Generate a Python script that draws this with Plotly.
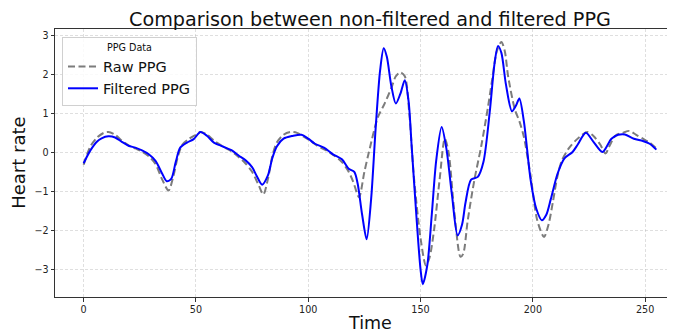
import plotly.graph_objects as go

# Filtered PPG
filt_t = [0, 3, 6, 8, 11, 14, 17, 20, 23, 26, 29, 32, 35, 37, 39, 41, 43, 46, 49, 52,
          55, 58, 62, 66, 69, 72, 75, 77, 79.5, 82, 84, 86, 89, 93, 97, 100, 103, 107,
          111, 115, 118, 120.5, 122, 124, 126, 128, 130, 132, 133.6, 135, 137, 139, 141,
          143, 144.7, 146, 148, 150, 151, 153, 155, 157, 159.4, 161.5, 164, 166.5, 168.5,
          170, 172.5, 175.5, 178, 180.8, 183, 184.5, 186, 188, 190.7, 192.5, 194, 196,
          199, 201.5, 204, 206, 208, 211, 214, 217.7, 220, 223.6, 227, 231, 235, 238,
          241, 245, 249, 252, 255]
filt_v = [-0.28, 0.05, 0.28, 0.36, 0.41, 0.38, 0.27, 0.17, 0.12, 0.05, -0.05, -0.22,
          -0.55, -0.74, -0.68, -0.25, 0.12, 0.25, 0.34, 0.52, 0.42, 0.25, 0.15, 0.05,
          -0.08, -0.2, -0.38, -0.6, -0.83, -0.6, -0.15, 0.15, 0.35, 0.42, 0.45, 0.35,
          0.22, 0.12, -0.05, -0.18, -0.42, -0.5, -0.8, -1.6, -2.23, -1.2, 0.6, 2.1, 2.67,
          2.45, 1.7, 1.25, 1.5, 1.85, 1.3, 0.2, -1.5, -3.0, -3.38, -2.9, -1.6, -0.2, 0.65,
          0.1, -1.1, -2.13, -1.85, -1.3, -0.7, -0.63, -0.25, 1.03, 2.3, 2.73, 2.55, 1.75,
          1.05, 1.2, 1.38, 0.8, -0.7, -1.44, -1.74, -1.6, -1.2, -0.55, -0.16, 0.01, 0.2,
          0.5, 0.27, 0.01, 0.35, 0.45, 0.46, 0.35, 0.29, 0.22, 0.07]

# Raw PPG
raw_t = [0, 3, 6, 9, 11, 14, 17, 20, 23, 26, 29, 32, 35, 37.8, 40, 42, 44, 47, 50, 52,
         55, 58, 62, 66, 69, 72, 75, 78, 80, 82, 84, 86, 89, 92, 95, 98, 101, 104, 108,
         112, 115, 118, 120, 122.6, 125, 127, 131, 134, 137, 139, 141, 143, 145, 147,
         150, 152.4, 154, 156, 158.5, 160.8, 162.5, 165, 167.8, 169, 171, 174, 177, 180,
         182, 184, 186, 187.5, 189, 192, 194, 196, 199, 202, 205, 207, 209, 211, 213,
         216, 219, 222, 224.3, 227, 230, 232.4, 234, 237, 240, 243, 246, 249, 252, 255]
raw_v = [-0.32, 0.15, 0.38, 0.5, 0.52, 0.45, 0.3, 0.18, 0.1, 0.02, -0.1, -0.3, -0.7,
         -0.98, -0.6, -0.1, 0.2, 0.35, 0.45, 0.52, 0.45, 0.3, 0.15, 0.02, -0.12, -0.28,
         -0.5, -0.85, -1.08, -0.7, -0.1, 0.25, 0.45, 0.52, 0.5, 0.4, 0.3, 0.17, 0.05,
         -0.1, -0.25, -0.5, -0.75, -1.15, -0.5, 0.0, 0.9, 1.25, 1.65, 1.95, 2.05, 1.95,
         1.0, -0.6, -2.2, -2.9, -2.7, -2.0, -0.7, 0.35, 0.0, -1.5, -2.68, -2.6, -1.75,
         -0.7, 0.15, 1.15, 1.9, 2.6, 2.83, 2.6, 1.95, 1.1, 0.8, 0.4, -0.6, -1.75, -2.17,
         -1.85, -1.25, -0.6, -0.2, 0.1, 0.3, 0.45, 0.52, 0.42, 0.2, -0.03, 0.15, 0.44,
         0.5, 0.55, 0.45, 0.35, 0.25, 0.1]

x_ticks = [0, 50, 100, 150, 200, 250]
y_ticks = [-3, -2, -1, 0, 1, 2, 3]

FONT = "DejaVu Sans"

fig = go.Figure()
fig.add_trace(go.Scatter(x=raw_t, y=raw_v, mode="lines", name="Raw PPG",
                         line=dict(color="rgba(110,110,110,0.9)", width=2, dash="7px,3.5px",
                                   shape="spline", smoothing=0.8)))
fig.add_trace(go.Scatter(x=filt_t, y=filt_v, mode="lines", name="Filtered PPG",
                         line=dict(color="#0000ff", width=2, shape="spline", smoothing=0.8)))

axis_common = dict(showgrid=True, gridcolor="rgba(176,176,176,0.4)", griddash="3px,2px",
                   gridwidth=0.8, zeroline=False, showline=True, linecolor="#333333",
                   linewidth=1, ticks="outside", ticklen=3.5, tickwidth=0.8,
                   tickcolor="#333333", tickfont=dict(family=FONT, size=9.6, color="#222222"))

fig.update_xaxes(range=[-12.75, 263.3], tickvals=x_ticks, mirror=True, **axis_common)
fig.update_yaxes(range=[-3.71, 3.163], tickvals=y_ticks, **axis_common)

fig.update_layout(
    width=667, height=325,
    margin=dict(l=47, r=0, t=21, b=36),
    plot_bgcolor="white", paper_bgcolor="white",
    font=dict(family=FONT, color="#111111"),
    title=dict(text="Comparison between non-filtered and filtered PPG",
               x=0.508, xref="paper", xanchor="center",
               y=1 - 11 / 325, yref="container", yanchor="middle",
               font=dict(family=FONT, size=19.2, color="#111111")),
    showlegend=True,
    legend=dict(x=0.0113, y=0.970, xanchor="left", yanchor="top",
                bgcolor="rgba(255,255,255,0.85)", bordercolor="#d0d0d0", borderwidth=1,
                font=dict(family=FONT, size=14.5, color="#111111"),
                title=dict(text="PPG Data", side="top center",
                           font=dict(family=FONT, size=9.6, color="#111111")),
                itemwidth=30, tracegroupgap=0),
    annotations=[
        dict(text="Time", xref="paper", yref="paper", x=0.508, y=-0.097,
             xanchor="center", yanchor="middle", showarrow=False,
             font=dict(family=FONT, size=17.5, color="#111111")),
        dict(text="Heart rate", xref="paper", yref="paper", x=-0.06, y=0.5,
             xanchor="center", yanchor="middle", showarrow=False, textangle=-90,
             font=dict(family=FONT, size=18, color="#111111")),
    ],
)

fig.write_html("out.html")
